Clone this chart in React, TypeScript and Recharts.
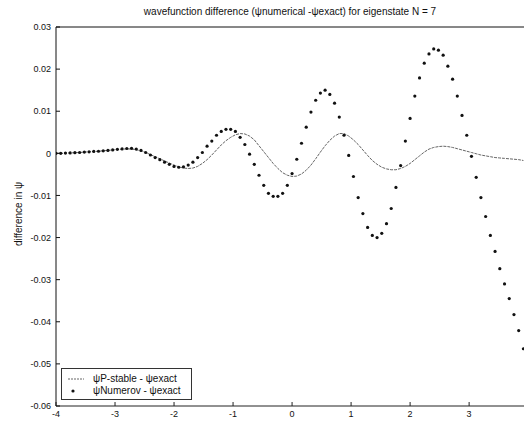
import { ComposedChart, Line, XAxis, YAxis, ReferenceLine } from "recharts";

// x grid of the two solutions (step 0.08)
const xs = [
  -4.0, -3.92, -3.84, -3.76, -3.68, -3.6, -3.52, -3.44, -3.36, -3.28,
  -3.2, -3.12, -3.04, -2.96, -2.88, -2.8, -2.72, -2.64, -2.56, -2.48,
  -2.4, -2.32, -2.24, -2.16, -2.08, -2.0, -1.92, -1.84, -1.76, -1.68,
  -1.6, -1.52, -1.44, -1.36, -1.28, -1.2, -1.12, -1.04, -0.96, -0.88,
  -0.8, -0.72, -0.64, -0.56, -0.48, -0.4, -0.32, -0.24, -0.16, -0.08,
  0.0, 0.08, 0.16, 0.24, 0.32, 0.4, 0.48, 0.56, 0.64, 0.72,
  0.8, 0.88, 0.96, 1.04, 1.12, 1.2, 1.28, 1.36, 1.44, 1.52,
  1.6, 1.68, 1.76, 1.84, 1.92, 2.0, 2.08, 2.16, 2.24, 2.32,
  2.4, 2.48, 2.56, 2.64, 2.72, 2.8, 2.88, 2.96, 3.04, 3.12,
  3.2, 3.28, 3.36, 3.44, 3.52, 3.6, 3.68, 3.76, 3.84, 3.92,
];

// psi P-stable - psi exact
const pStable = [
  0, 0, 0.00005, 0.0001, 0.00015, 0.0002, 0.0003, 0.00035, 0.00045, 0.0005,
  0.0006, 0.0007, 0.0008, 0.0009, 0.001, 0.00105, 0.001, 0.00085, 0.0006, 0.0002,
  -0.0003, -0.0008, -0.0013, -0.0018, -0.0023, -0.0028, -0.0032, -0.0035, -0.0036, -0.0035,
  -0.0031, -0.0024, -0.0015, -0.0004, 0.0008, 0.002, 0.003, 0.0038, 0.0044, 0.0047,
  0.0046, 0.0041, 0.0032, 0.0018, 0.0004, -0.001, -0.0024, -0.0036, -0.0046, -0.0052,
  -0.0055, -0.0054, -0.0049, -0.004, -0.0028, -0.0013, 0.0003, 0.0018, 0.0031, 0.0041,
  0.0047, 0.0047, 0.0041, 0.0032, 0.0021, 0.0008, -0.0005, -0.0017, -0.0026, -0.0033,
  -0.0037, -0.0039, -0.0039, -0.0036, -0.0031, -0.0024, -0.0015, -0.0006, 0.0003, 0.001,
  0.0014, 0.0016, 0.0017, 0.0016, 0.0014, 0.0011, 0.0008, 0.0005, 0.0002, -0.0001,
  -0.0004, -0.0006, -0.0008, -0.001, -0.0011, -0.0012, -0.0013, -0.0014, -0.0015, -0.0017,
];

// psi Numerov - psi exact
const numerov = [
  0, 0, 0.00005, 0.0001, 0.00015, 0.0002, 0.0003, 0.00035, 0.00045, 0.0005,
  0.0006, 0.0007, 0.0008, 0.00095, 0.00105, 0.00115, 0.0012, 0.001, 0.0007, 0.0002,
  -0.0004, -0.001, -0.0015, -0.0021, -0.0026, -0.0031, -0.0033, -0.0032, -0.0028, -0.0021,
  -0.001, 0.0002, 0.0017, 0.0029, 0.0043, 0.0052, 0.0057, 0.0057, 0.0052, 0.0038,
  0.0021, -0.0002, -0.0026, -0.0052, -0.0076, -0.0095, -0.0102, -0.0102, -0.0095, -0.0076,
  -0.0048, -0.0014, 0.0024, 0.0062, 0.0098, 0.0126, 0.0143, 0.015, 0.014, 0.0119,
  0.0086, 0.0043, -0.0005, -0.0055, -0.0105, -0.0143, -0.0176, -0.0195, -0.02, -0.019,
  -0.0167, -0.0131, -0.0081, -0.0029, 0.0029, 0.0083, 0.0136, 0.0179, 0.0214, 0.0236,
  0.0248, 0.0245, 0.0233, 0.0207, 0.0176, 0.0136, 0.009, 0.0043, -0.0007, -0.0057,
  -0.0105, -0.015, -0.0195, -0.0233, -0.0274, -0.031, -0.0345, -0.0383, -0.0421, -0.0464,
];

const xTicks = [-4, -3, -2, -1, 0, 1, 2, 3];
const yTicks = [0.03, 0.02, 0.01, 0, -0.01, -0.02, -0.03, -0.04, -0.05, -0.06];

const rows = xs.map((x, i) => ({ x, pstable: pStable[i], numerov: numerov[i] }));

const font = "'Liberation Sans', Arial, Helvetica, sans-serif";
const tickStyle = { fontSize: 9, fill: "#111", fontFamily: font };

export default function App() {
  return (
    <div
      style={{
        position: "absolute",
        left: 0,
        top: 0,
        width: 524,
        height: 426,
        background: "#fff",
        fontFamily: font,
        overflow: "hidden",
      }}
    >
      <div
        style={{
          position: "absolute",
          left: 290,
          top: 11,
          transform: "translate(-50%, -50%)",
          whiteSpace: "nowrap",
          fontSize: 10,
          color: "#111",
        }}
      >
        wavefunction difference (ψnumerical -ψexact) for eigenstate N = 7
      </div>
      <div
        style={{
          position: "absolute",
          left: 18,
          top: 214,
          transform: "translate(-50%, -50%) rotate(-90deg)",
          whiteSpace: "nowrap",
          fontSize: 10,
          color: "#111",
        }}
      >
        difference in ψ
      </div>

      <ComposedChart
        width={524}
        height={426}
        data={rows}
        margin={{ top: 27, right: 0, bottom: 0, left: 0 }}
      >
        <XAxis
          type="number"
          dataKey="x"
          domain={[-4, 3.93]}
          ticks={xTicks}
          height={20}
          tickSize={-4}
          tickMargin={9}
          tick={tickStyle}
          stroke="#222"
          allowDataOverflow
        />
        <YAxis
          type="number"
          domain={[-0.06, 0.03]}
          ticks={yTicks}
          width={56}
          tickSize={-4}
          tickMargin={9}
          tick={tickStyle}
          tickFormatter={(v: number) => (v === 0 ? "0" : v.toFixed(2))}
          stroke="#111"
          allowDataOverflow
        />
        <ReferenceLine y={0.03} stroke="#111" strokeWidth={1} />
        <Line
          dataKey="pstable"
          type="linear"
          stroke="#666"
          strokeWidth={1}
          strokeDasharray="3 1"
          dot={false}
          isAnimationActive={false}
        />
        <Line
          dataKey="numerov"
          type="linear"
          stroke="none"
          dot={{ r: 1.6, fill: "#111", stroke: "none" }}
          isAnimationActive={false}
        />
      </ComposedChart>

      <div
        style={{
          position: "absolute",
          left: 61,
          top: 368,
          width: 129,
          height: 30,
          border: "1px solid #333",
          background: "#fff",
          fontSize: 10,
          color: "#111",
        }}
      >
        <div style={{ position: "absolute", left: 5, top: 4, display: "flex", alignItems: "center" }}>
          <svg width={18} height={8}>
            <line x1={1} y1={4} x2={17} y2={4} stroke="#666" strokeDasharray="2 1" />
          </svg>
          <span style={{ marginLeft: 8, lineHeight: "12px" }}>ψP-stable - ψexact</span>
        </div>
        <div style={{ position: "absolute", left: 5, top: 16, display: "flex", alignItems: "center" }}>
          <svg width={18} height={8}>
            <circle cx={6} cy={4} r={1.6} fill="#111" />
          </svg>
          <span style={{ marginLeft: 8, lineHeight: "12px" }}>ψNumerov - ψexact</span>
        </div>
      </div>
    </div>
  );
}
